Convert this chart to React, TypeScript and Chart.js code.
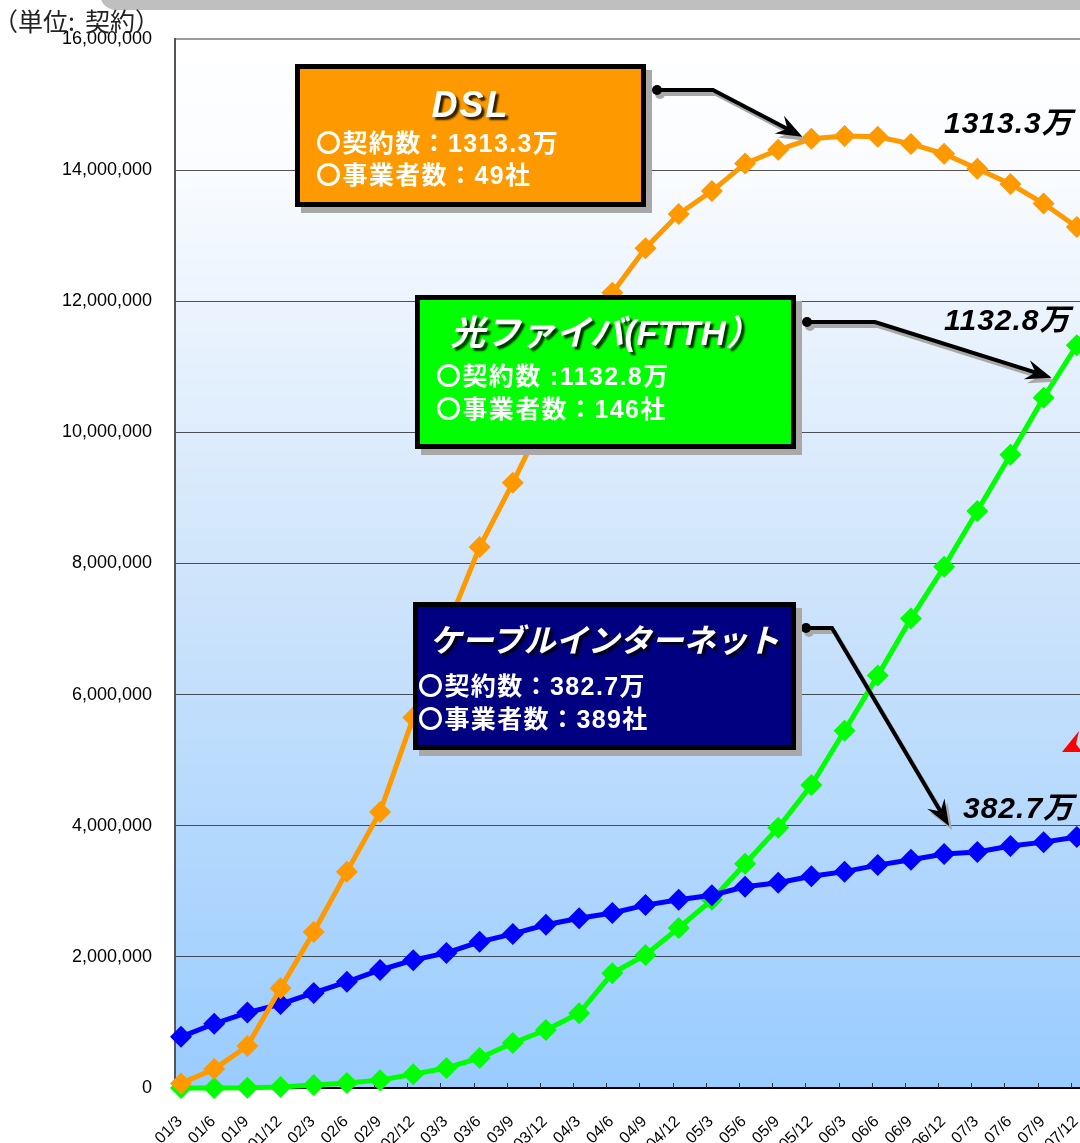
import React, { useEffect, useRef } from 'react';
import { Chart, registerables } from 'chart.js';

Chart.register(...registerables);

const LABELS = ['01/3','01/6','01/9','01/12','02/3','02/6','02/9','02/12','03/3','03/6','03/9','03/12','04/3','04/6','04/9','04/12','05/3','05/6','05/9','05/12','06/3','06/6','06/9','06/12','07/3','07/6','07/9','07/12'];

const DSL = [70000, 290000, 640000, 1520000, 2380000, 3300000, 4210000, 5650000, 7000000, 8250000, 9230000, 10270000, 11200000, 12130000, 12810000, 13330000, 13680000, 14100000, 14310000, 14480000, 14520000, 14510000, 14400000, 14250000, 14020000, 13790000, 13490000, 13133000];

const FTTH = [0, 1000, 2000, 15000, 46000, 76000, 120000, 210000, 305000, 458000, 686000, 885000, 1140000, 1750000, 2030000, 2440000, 2870000, 3420000, 3970000, 4620000, 5450000, 6290000, 7160000, 7950000, 8800000, 9660000, 10530000, 11328000];

const CABLE = [780000, 980000, 1150000, 1280000, 1450000, 1620000, 1800000, 1950000, 2060000, 2230000, 2350000, 2490000, 2590000, 2670000, 2790000, 2870000, 2940000, 3070000, 3130000, 3230000, 3300000, 3400000, 3480000, 3570000, 3600000, 3690000, 3750000, 3827000];

const Y_MIN = 0;
const Y_MAX = 16000000;
const Y_STEP = 2000000;
const X_MIN = -0.181;
const X_MAX = 28;

const FONT = '"Liberation Sans", "Noto Sans CJK JP", sans-serif';

function connector(ctx: CanvasRenderingContext2D, s: number[], m: number[], t: number[]) {
  const draw = (dx: number, dy: number, col: string) => {
    const ang = Math.atan2(t[1] - m[1], t[0] - m[0]);
    const ux = Math.cos(ang), uy = Math.sin(ang);
    const nx = -uy, ny = ux;
    const hl = 26, hw = 10;
    ctx.strokeStyle = col;
    ctx.fillStyle = col;
    ctx.lineWidth = 4;
    ctx.lineJoin = 'miter';
    ctx.beginPath();
    ctx.moveTo(s[0] + dx, s[1] + dy);
    ctx.lineTo(m[0] + dx, m[1] + dy);
    ctx.lineTo(t[0] - ux * hl * 0.6 + dx, t[1] - uy * hl * 0.6 + dy);
    ctx.stroke();
    ctx.beginPath();
    ctx.arc(s[0] + dx, s[1] + dy, 5, 0, Math.PI * 2);
    ctx.fill();
    const bx = t[0] - ux * hl, by = t[1] - uy * hl;
    ctx.beginPath();
    ctx.moveTo(t[0] + dx, t[1] + dy);
    ctx.lineTo(bx + nx * hw + dx, by + ny * hw + dy);
    ctx.lineTo(t[0] - ux * hl * 0.65 + dx, t[1] - uy * hl * 0.65 + dy);
    ctx.lineTo(bx - nx * hw + dx, by - ny * hw + dy);
    ctx.closePath();
    ctx.fill();
  };
  draw(3, 4, '#a8a8a8');
  draw(0, 0, '#000000');
}

const bgPlugin = {
  id: 'bgGradient',
  beforeDraw(chart: any) {
    const { ctx, chartArea: a } = chart;
    const g = ctx.createLinearGradient(0, a.top, 0, a.bottom);
    g.addColorStop(0, '#ffffff');
    g.addColorStop(0.12, '#fafcff');
    g.addColorStop(0.5, '#d0e5fb');
    g.addColorStop(1, '#99ccff');
    ctx.save();
    ctx.fillStyle = g;
    ctx.fillRect(a.left, a.top, a.right - a.left, a.bottom - a.top);
    ctx.restore();
  },
  beforeDatasetsDraw(chart: any) {
    const { ctx, chartArea: a } = chart;
    const xs = chart.scales.x;
    ctx.save();
    ctx.strokeStyle = '#333';
    ctx.lineWidth = 1;
    for (let i = 1; i < LABELS.length; i++) {
      const px = Math.round(xs.getPixelForValue(i + X_MIN)) + 0.5;
      ctx.beginPath();
      ctx.moveTo(px, a.bottom);
      ctx.lineTo(px, a.bottom - 5);
      ctx.stroke();
    }
    ctx.restore();
  },
};

const annoPlugin = {
  id: 'annotations',
  afterDraw(chart: any) {
    const { ctx, chartArea: a } = chart;
    const xs = chart.scales.x, ys = chart.scales.y;
    ctx.save();
    // x labels
    ctx.font = '16px "Liberation Sans"';
    ctx.fillStyle = '#000';
    ctx.textAlign = 'right';
    ctx.textBaseline = 'middle';
    LABELS.forEach((l, i) => {
      ctx.save();
      ctx.translate(xs.getPixelForValue(i) - 1, a.bottom + 31);
      ctx.rotate(-Math.PI / 4);
      ctx.fillText(l, 0, 0);
      ctx.restore();
    });
    // connectors
    connector(ctx, [657, 90], [713, 90], [xs.getPixelForValue(19) - 9, ys.getPixelForValue(DSL[19]) - 2]);
    connector(ctx, [807, 322], [875, 322], [xs.getPixelForValue(26) + 8, ys.getPixelForValue(FTTH[26]) - 20]);
    connector(ctx, [806, 628], [832, 628], [xs.getPixelForValue(23) + 5, ys.getPixelForValue(CABLE[23]) - 28]);
    // partial red arrow head at the right edge
    ctx.fillStyle = '#ff0000';
    ctx.beginPath();
    ctx.moveTo(1062, 752);
    ctx.lineTo(1079, 731);
    ctx.lineTo(1076, 744);
    ctx.lineTo(1082, 752);
    ctx.closePath();
    ctx.fill();
    ctx.restore();
  },
};

function Txt(props: { x: number; base: number; size: number; w?: number; center?: boolean; style?: any; ratio?: number; ff?: string; children: any }) {
  const { x, base, size, w, center, style, ratio, ff, children } = props;
  return (
    <div
      style={{
        position: 'absolute',
        left: x,
        top: base - (ratio ?? 0.8465) * size,
        width: w,
        textAlign: center ? 'center' : 'left',
        fontSize: size,
        lineHeight: `${size}px`,
        whiteSpace: 'nowrap',
        fontFamily: ff ?? FONT,
        ...style,
      }}
    >
      {children}
    </div>
  );
}

const boxStyle = (left: number, top: number, width: number, height: number, bg: string) => ({
  position: 'absolute' as const,
  left,
  top,
  width,
  height,
  boxSizing: 'border-box' as const,
  border: '5px solid #000',
  background: bg,
  boxShadow: '6px 6px 0 #a8a8a8',
});

const titleStyle = {
  color: '#fff',
  fontWeight: 'bold',
  fontStyle: 'italic',
  textShadow: '3px 3px 2px rgba(0,0,0,0.8)',
};
const lineStyle = { color: '#fff', fontWeight: 'bold', letterSpacing: '1.4px' };
const valStyle = { color: '#000', fontWeight: 'bold', fontStyle: 'italic', letterSpacing: '1px' };

export default function App() {
  const ref = useRef<HTMLCanvasElement>(null);
  useEffect(() => {
    const mk = (arr: number[]) => arr.map((v, i) => ({ x: i, y: v }));
    const ds = (label: string, arr: number[], color: string) => ({
      label,
      data: mk(arr),
      borderColor: color,
      backgroundColor: color,
      pointBackgroundColor: color,
      pointBorderColor: color,
      borderWidth: 5,
      pointStyle: 'rectRot',
      pointRadius: 11,
      pointBorderWidth: 0,
      tension: 0,
      clip: false,
    });
    const chart = new Chart(ref.current as HTMLCanvasElement, {
      type: 'line',
      data: {
        datasets: [ds('DSL', DSL, '#FF9900'), ds('CATV', CABLE, '#0000FF'), ds('FTTH', FTTH, '#00FF00')] as any,
      },
      options: {
        animation: false,
        responsive: false,
        layout: { padding: { left: 0, top: 39, right: 20, bottom: 0 } },
        plugins: { legend: { display: false }, tooltip: { enabled: false } },
        scales: {
          x: {
            type: 'linear',
            min: X_MIN,
            max: X_MAX,
            afterBuildTicks: (axis: any) => {
              axis.ticks = LABELS.map((_, i) => ({ value: i }));
            },
            afterFit: (s: any) => {
              s.height = 55;
            },
            ticks: { display: false },
            grid: { display: false, drawTicks: false },
            border: { display: true, color: '#000', width: 2 },
          },
          y: {
            min: Y_MIN,
            max: Y_MAX,
            afterFit: (s: any) => {
              s.width = 175;
            },
            ticks: {
              stepSize: Y_STEP,
              padding: 23,
              color: '#000',
              font: { family: '"Liberation Sans"', size: 18 },
              callback: (v: any) => Number(v).toLocaleString('en-US'),
            },
            grid: {
              drawTicks: false,
              color: (c: any) => (c.tick && c.tick.value === Y_MAX ? '#9a9a9a' : 'rgba(40,40,40,0.8)'),
              lineWidth: (c: any) => (c.tick && c.tick.value === Y_MAX ? 2 : 1),
            },
            border: { color: '#555', width: 2 },
          },
        },
      } as any,
      plugins: [bgPlugin, annoPlugin],
    });
    return () => chart.destroy();
  }, []);

  return (
    <div
      style={{
        position: 'absolute',
        left: 0,
        top: 0,
        width: 1080,
        height: 1143,
        overflow: 'hidden',
        background: '#fff',
        fontFamily: FONT,
      }}
    >
      <div style={{ position: 'absolute', left: 100, top: -22, width: 1060, height: 32, borderRadius: 16, background: '#bfbfbf' }} />
      <canvas ref={ref} width={1130} height={1143} style={{ position: 'absolute', left: 0, top: 0, width: 1130, height: 1143 }} />
      <Txt x={-7} base={31.5} size={25} ratio={0.936} ff={'"Noto Sans CJK JP", sans-serif'} style={{ color: '#222' }}>
        （単位<span style={{ marginRight: 10 }}>:</span>契約）
      </Txt>

      <div style={boxStyle(295, 64, 351, 143, '#FF9900')} />
      <Txt x={295} w={351} center base={117} size={36} style={{ ...titleStyle, letterSpacing: '2px' }}>DSL</Txt>
      <Txt x={316} base={152} size={25} style={lineStyle}>〇契約数：1313.3万</Txt>
      <Txt x={316} base={184} size={25} style={lineStyle}>〇事業者数：49社</Txt>

      <div style={boxStyle(415, 295, 381, 154, '#00FF00')} />
      <Txt x={415} w={381} center base={345} size={35} style={titleStyle}>光ファイバ(FTTH）</Txt>
      <Txt x={436} base={385} size={25} style={lineStyle}>〇契約数 :1132.8万</Txt>
      <Txt x={436} base={418} size={25} style={lineStyle}>〇事業者数：146社</Txt>

      <div style={boxStyle(413, 602, 383, 148, '#000080')} />
      <Txt x={413} w={383} center base={652} size={32} style={titleStyle}>ケーブルインターネット</Txt>
      <Txt x={418} base={695} size={25} style={lineStyle}>〇契約数：382.7万</Txt>
      <Txt x={418} base={728} size={25} style={lineStyle}>〇事業者数：389社</Txt>

      <Txt x={944} base={133} size={30} style={valStyle}>1313.3万</Txt>
      <Txt x={944} base={330} size={30} style={valStyle}>1132.8万</Txt>
      <Txt x={963} base={818} size={30} style={valStyle}>382.7万</Txt>
    </div>
  );
}
